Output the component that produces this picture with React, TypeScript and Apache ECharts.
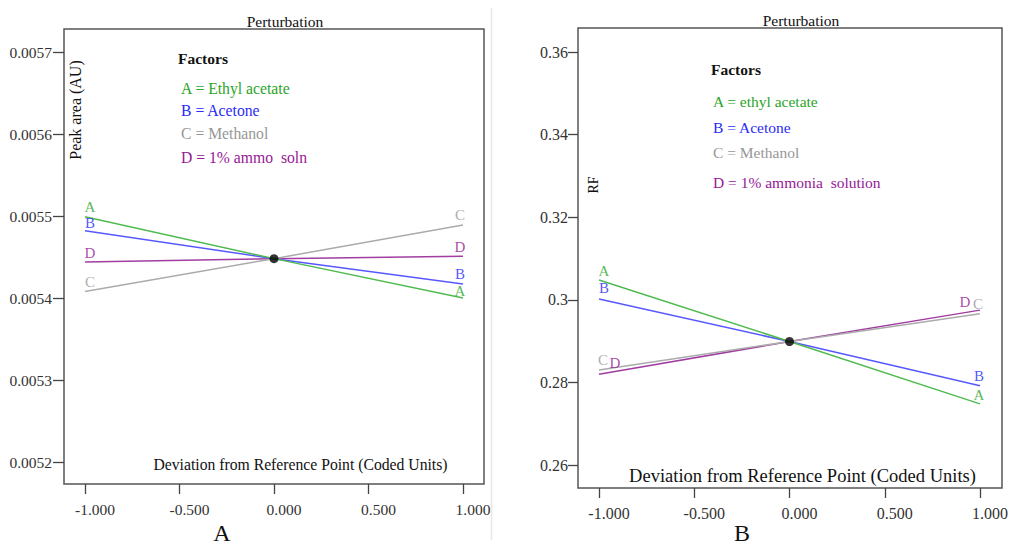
import React, { useEffect, useRef } from "react";
import * as echarts from "echarts";

const FONT = '"Liberation Serif", "Times New Roman", serif';

// ---- data ----
const FACTORS = ["A", "B", "C", "D"];
const LEGEND_LEFT = ["A = Ethyl acetate", "B = Acetone", "C = Methanol", "D = 1% ammo  soln"];
const LEGEND_RIGHT = ["A = ethyl acetate", "B = Acetone", "C = Methanol", "D = 1% ammonia  solution"];
const X_LEVELS = [-1, 0, 1];

// Panel A: Peak area (AU)
const PEAK_CENTER = 0.005448;
const PEAK_LOW = [0.005499, 0.005482, 0.005408, 0.005444]; // at -1
const PEAK_HIGH = [0.0054, 0.005417, 0.005489, 0.005451]; // at +1
const PEAK_AXIS = [0.0052, 0.0057, 0.0001]; // min, max, step

// Panel B: RF
const RF_CENTER = 0.2899;
const RF_LOW = [0.3048, 0.3002, 0.283, 0.282];
const RF_HIGH = [0.2748, 0.2792, 0.2966, 0.2975];
const RF_AXIS = [0.26, 0.36, 0.02];

const X_AXIS = [-1, 1, 0.5];

// ---- styles ----
const TEXT_COLORS = ["#2aa52a", "#2b2bf5", "#979797", "#961896"];
const LINE_COLORS = ["#4fbb4f", "#5858ff", "#ababab", "#a23ea2"];

const LEFT_LABEL_OFF_START = [[5, -10], [5, -8], [5, -9], [5, -9]];
const LEFT_LABEL_OFF_END = [[-3, -7], [-3, -10], [-3, -10], [-3, -9]];
const RIGHT_LABEL_OFF_START = [[5, -9], [5, -11], [4, -10], [16, -11]];
const RIGHT_LABEL_OFF_END = [[-1, -9], [-1, -10], [-2, -10], [-15, -8]];

function buildPanelSeries(
  idx: number,
  center: number,
  low: number[],
  high: number[],
  offStart: number[][],
  offEnd: number[][]
) {
  const series: any[] = [];
  FACTORS.forEach((f, i) => {
    const ys = [low[i], center, high[i]];
    series.push({
      type: "line",
      name: f + idx,
      xAxisIndex: idx,
      yAxisIndex: idx,
      data: X_LEVELS.map((x, k) => [x, ys[k]]),
      symbol: "none",
      lineStyle: { color: LINE_COLORS[i], width: 1.5 },
      z: 3 + (3 - i),
      silent: true,
    });
  });
  const labelData: any[] = [];
  FACTORS.forEach((f, i) => {
    labelData.push({
      value: [X_LEVELS[0], low[i]],
      label: { formatter: f, color: TEXT_COLORS[i], offset: offStart[i] },
    });
    labelData.push({
      value: [X_LEVELS[2], high[i]],
      label: { formatter: f, color: TEXT_COLORS[i], offset: offEnd[i] },
    });
  });
  series.push({
    type: "scatter",
    xAxisIndex: idx,
    yAxisIndex: idx,
    symbolSize: 1,
    itemStyle: { color: "rgba(0,0,0,0)" },
    label: {
      show: true,
      position: "inside",
      fontFamily: FONT,
      fontSize: 15,
      lineHeight: 14,
      align: "center",
      verticalAlign: "middle",
    },
    data: labelData,
    z: 8,
    silent: true,
  });
  series.push({
    type: "scatter",
    xAxisIndex: idx,
    yAxisIndex: idx,
    symbolSize: 9,
    itemStyle: { color: "#000" },
    data: [[X_LEVELS[1], center]],
    z: 10,
    silent: true,
  });
  return series;
}

function xAxisCfg(idx: number, offset: number, fontSize: number) {
  return {
    type: "value",
    gridIndex: idx,
    min: X_AXIS[0],
    max: X_AXIS[1],
    interval: X_AXIS[2],
    offset,
    axisLine: { show: false, onZero: false },
    axisTick: { show: true, length: 10, lineStyle: { color: "#444", width: 1.3 } },
    splitLine: { show: false },
    axisLabel: {
      formatter: (v: number) => v.toFixed(3),
      fontFamily: FONT,
      fontSize,
      color: "#333",
      margin: 17,
      padding: [0, 0, 0, 20],
    },
  };
}

function yAxisCfg(idx: number, axis: number[], fmt: (v: number) => string, margin: number, fontSize: number, tickLen: number) {
  return {
    type: "value",
    gridIndex: idx,
    min: axis[0],
    max: axis[1],
    interval: axis[2],
    offset: 21,
    axisLine: { show: false, onZero: false },
    axisTick: { show: true, length: tickLen, lineStyle: { color: "#444", width: 1.3 } },
    splitLine: { show: false },
    axisLabel: { formatter: fmt, fontFamily: FONT, fontSize, color: "#333", margin },
  };
}

function txt(text: string, x: number, y: number, opts: any = {}) {
  return {
    type: "text",
    x,
    y,
    rotation: opts.rotation || 0,
    silent: true,
    style: {
      text,
      fill: opts.color || "#111",
      fontFamily: FONT,
      fontSize: opts.size || 16,
      fontWeight: opts.weight || "normal",
      align: opts.align || "left",
      verticalAlign: "middle",
    },
  };
}

export default function App() {
  const ref = useRef<HTMLDivElement>(null);
  useEffect(() => {
    if (!ref.current) return;
    const chart = echarts.init(ref.current, undefined, { renderer: "svg" });
    const graphic: any[] = [
      { type: "rect", shape: { x: 64, y: 29, width: 420, height: 455 }, style: { fill: "none", stroke: "#555", lineWidth: 1.5 }, silent: true },
      { type: "rect", shape: { x: 578, y: 28, width: 424, height: 460 }, style: { fill: "none", stroke: "#555", lineWidth: 1.5 }, silent: true },
      { type: "line", shape: { x1: 491.5, y1: 8, x2: 491.5, y2: 540 }, style: { stroke: "#e8e8e8", lineWidth: 1.5 }, silent: true },
      txt("Perturbation", 285, 21, { size: 15.5, align: "center" }),
      txt("Perturbation", 801, 20, { size: 15.5, align: "center" }),
      txt("Factors", 178, 58, { size: 15.5, weight: "bold" }),
      txt("Factors", 711, 69, { size: 15.5, weight: "bold" }),
      txt("Peak area (AU)", 75, 110, { size: 16, align: "center", rotation: Math.PI / 2 }),
      txt("RF", 593, 185, { size: 14, align: "center", rotation: Math.PI / 2 }),
      txt("Deviation from Reference Point (Coded Units)", 300.5, 464, { size: 15.7, align: "center" }),
      txt("Deviation from Reference Point (Coded Units)", 802.5, 476, { size: 18.5, align: "center" }),
      txt("A", 222, 533, { size: 24, align: "center" }),
      txt("B", 742, 533, { size: 24, align: "center" }),
    ];
    const leftYs = [88, 110, 133, 157];
    const rightYs = [101, 127, 152, 182];
    LEGEND_LEFT.forEach((t, i) => graphic.push(txt(t, 181, leftYs[i], { size: 15.7, color: TEXT_COLORS[i] })));
    LEGEND_RIGHT.forEach((t, i) => graphic.push(txt(t, 713, rightYs[i], { size: 15.5, color: TEXT_COLORS[i] })));

    chart.setOption({
      animation: false,
      backgroundColor: "#fff",
      grid: [
        { left: 85, top: 52, width: 378, height: 410 },
        { left: 599, top: 52, width: 381, height: 413 },
      ],
      xAxis: [xAxisCfg(0, 22, 15.5), xAxisCfg(1, 23, 16)],
      yAxis: [
        yAxisCfg(0, PEAK_AXIS, (v: number) => v.toFixed(4), 12, 15.5, 11),
        yAxisCfg(1, RF_AXIS, (v: number) => String(+v.toFixed(2)), 10, 16, 10),
      ],
      series: [
        ...buildPanelSeries(0, PEAK_CENTER, PEAK_LOW, PEAK_HIGH, LEFT_LABEL_OFF_START, LEFT_LABEL_OFF_END),
        ...buildPanelSeries(1, RF_CENTER, RF_LOW, RF_HIGH, RIGHT_LABEL_OFF_START, RIGHT_LABEL_OFF_END),
      ],
      graphic,
    });
    return () => chart.dispose();
  }, []);
  return (
    <div
      ref={ref}
      style={{ position: "fixed", left: 0, top: 0, width: 1011, height: 546, background: "#fff" }}
    />
  );
}
